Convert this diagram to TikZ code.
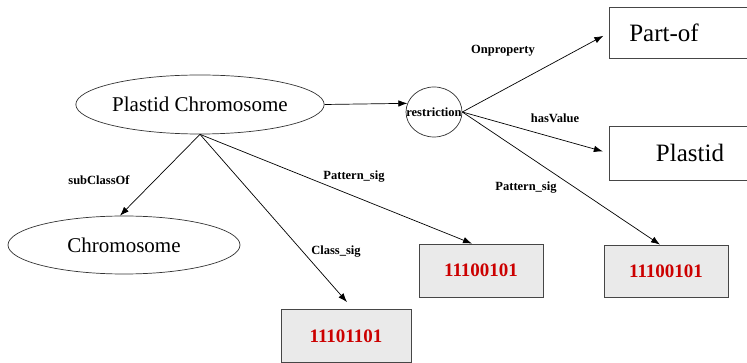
\documentclass[tikz,border=0pt]{standalone}
\usepackage{fontspec}
\setmainfont{Liberation Serif}
\usetikzlibrary{arrows.meta,shapes.geometric}
\definecolor{sigred}{RGB}{204,0,0}
\definecolor{sigfill}{RGB}{234,234,234}
\definecolor{boxline}{RGB}{70,70,70}
\tikzset{
  cls/.style={draw=black!80,line width=0.7pt,ellipse,inner sep=0pt,font=\fontsize{21}{24}\selectfont},
  valbox/.style={draw=boxline,line width=0.8pt,rectangle,inner sep=0pt},
  valtext/.style={inner sep=0pt,font=\fontsize{25}{28}\selectfont},
  sigbox/.style={draw=boxline,line width=0.8pt,fill=sigfill,rectangle,inner sep=0pt,text=sigred,font=\bfseries\fontsize{19}{22}\selectfont},
  lbl/.style={font=\bfseries\fontsize{12.5}{14}\selectfont,inner sep=0pt},
  arr/.style={draw=black,line width=0.7pt,-{Latex[length=9pt,width=6.5pt]}}
}
\begin{document}
\begin{tikzpicture}[x=1pt,y=-1pt]
\useasboundingbox[fill=white] (0,0) rectangle (747,363);
% nodes
\node[cls,minimum width=230pt,minimum height=59pt] (pc) at (200,104.5) {Plastid Chromosome};
\node[cls,minimum width=232pt,minimum height=58pt] (ch) at (124,245) {Chromosome};
\node[draw=black!80,line width=0.7pt,ellipse,minimum width=56pt,minimum height=50pt,inner sep=0pt,
      label={[lbl]center:restriction}] (r) at (434,112) {};
\node[valbox,minimum width=146pt,minimum height=51pt] (po) at (682,32.5) {};
\node[valtext] (pot) at (664,33) {Part-of};
\node[valbox,minimum width=146pt,minimum height=54pt] (pl) at (682,153) {};
\node[valtext] (plt) at (690,153) {Plastid};
\node[sigbox,minimum width=130pt,minimum height=53pt] (b1) at (346,336) {11101101};
\node[sigbox,minimum width=124pt,minimum height=53pt] (b2) at (481,270.5) {11100101};
\node[sigbox,minimum width=124pt,minimum height=52pt] (b3) at (666,271) {11100101};
% connectors
\draw[arr] (pc.east) -- (r.162);
\draw[arr,shorten >=6pt] (r.east) -- (po.west |- pot.west);
\draw[arr,shorten >=6pt] (r.east) -- (pl.west);
\draw[arr] (r.east) -- ([xshift=-6pt]b3.north);
\draw[arr] (pc.south) -- ([xshift=-4pt]ch.north);
\draw[arr] (pc.south) -- ([yshift=7pt,xshift=1pt]b1.north);
\draw[arr] (pc.south) -- ([xshift=-9pt]b2.north);
% labels
\node[lbl] (l1) at (503,51) {Onproperty};
\node[lbl] (l2) at (555,118) {hasValue};
\node[lbl] (l3) at (526,188) {Pattern\_sig};
\node[lbl] (l4) at (354,177) {Pattern\_sig};
\node[lbl] (l5) at (99,180) {subClassOf};
\node[lbl] (l6) at (336,252) {Class\_sig};
\end{tikzpicture}
\end{document}
